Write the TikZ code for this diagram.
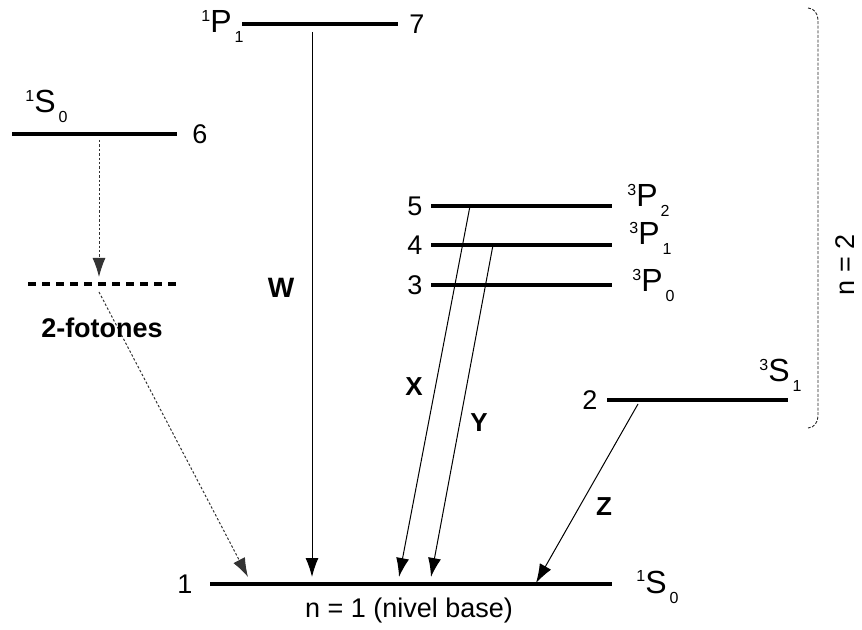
\documentclass[tikz,border=0pt]{standalone}
\usepackage{fontspec}
\setmainfont{Liberation Sans}
\usetikzlibrary{arrows.meta}

\newcommand{\lvlterm}[3]{\raisebox{5.6pt}{\fontsize{8}{9}\selectfont #1}#2\hspace{1.5pt}\raisebox{-5pt}{\fontsize{8}{9}\selectfont #3}}

\begin{document}
\begin{tikzpicture}[
    x=0.5pt,y=-0.5pt,
    level/.style={line width=1.6pt},
    virtual/.style={line width=1.6pt,dash pattern=on 4pt off 3pt},
    trans/.style={->,line width=0.5pt},
    twophot/.style={->,line width=0.5pt,dash pattern=on 1.2pt off 1pt,black!80},
    num/.style={font=\fontsize{13.5}{16}\selectfont},
    term/.style={font=\fontsize{16}{18}\selectfont,inner sep=0pt,anchor=base west},
    lbl/.style={font=\fontsize{13}{15}\selectfont\bfseries},
    >={Latex[length=9.5pt,width=6.5pt]},
]
    \useasboundingbox (0,0) rectangle (862,630);

    % levels
    \coordinate (l7w) at (242,24);  \coordinate (l7e) at (398,24);
    \coordinate (l6w) at (12,134);  \coordinate (l6e) at (177,134);
    \coordinate (l5w) at (431,206); \coordinate (l5e) at (612,206);
    \coordinate (l4w) at (431,245); \coordinate (l4e) at (612,245);
    \coordinate (l3w) at (431,285); \coordinate (l3e) at (612,285);
    \coordinate (l2w) at (607,400); \coordinate (l2e) at (788,400);
    \coordinate (l1w) at (210,584); \coordinate (l1e) at (612,584);
    \coordinate (vw) at (28,284);   \coordinate (ve) at (178,284);
    \draw[level] (l7w) -- (l7e);
    \draw[level] (l6w) -- (l6e);
    \draw[level] (l5w) -- (l5e);
    \draw[level] (l4w) -- (l4e);
    \draw[level] (l3w) -- (l3e);
    \draw[level] (l2w) -- (l2e);
    \draw[level] (l1w) -- (l1e);
    \draw[virtual] (vw) -- (ve);

    % numbers and terms
    \node[num] (n7) at (417,24) {7};
    \node[num] (n6) at (200,134) {6};
    \node[num] (n5) at (415,206) {5};
    \node[num] (n4) at (415,245) {4};
    \node[num] (n3) at (415,285) {3};
    \node[num] (n2) at (590,400) {2};
    \node[num] (n1) at (185,584) {1};
    \node[term] (t7) at (201,33) {\lvlterm{1}{P}{1}};
    \node[term] (t6) at (25,113) {\lvlterm{1}{S}{0}};
    \node[term] (t5) at (627,207) {\lvlterm{3}{P}{2}};
    \node[term] (t4) at (629,245) {\lvlterm{3}{P}{1}};
    \node[term] (t3) at (632,292) {\lvlterm{3}{P}{0}};
    \node[term] (t2) at (759,382) {\lvlterm{3}{S}{1}};
    \node[term] (t1) at (636,593) {\lvlterm{1}{S}{0}};
    \node[num] (base) at (409,611) {n = 1 (nivel base)};

    % transitions
    \coordinate (w0) at (312,32);  \coordinate (w1) at (312,577);
    \coordinate (x0) at (470,206); \coordinate (x1) at (399,577);
    \coordinate (y0) at (493,245); \coordinate (y1) at (431,577);
    \coordinate (z0) at (638,404); \coordinate (z1) at (536,583);
    \coordinate (f0) at (99,140);  \coordinate (f1) at (99,277);
    \coordinate (g0) at (99,292);  \coordinate (g1) at (248,577);
    \draw[trans] (w0) -- (w1);
    \draw[trans] (x0) -- (x1);
    \draw[trans] (y0) -- (y1);
    \draw[trans] (z0) -- (z1);
    \draw[twophot] (f0) -- (f1);
    \draw[twophot] (g0) -- (g1);
    \node[lbl,font=\fontsize{14}{16}\selectfont\bfseries] (lw) at (281,288) {W};
    \node[lbl] (lx) at (414,387) {X};
    \node[lbl] (ly) at (479,423) {Y};
    \node[lbl] (lz) at (604,507) {Z};
    \node[lbl,font=\fontsize{13.5}{16}\selectfont\bfseries] (lf) at (102,328) {2-fotones};

    % n = 2 brace
    \coordinate (bt) at (808,8); \coordinate (bb) at (808,428);
    \draw[line width=0.45pt,dash pattern=on 1.5pt off 0.8pt,black!85] (bt) to[out=0,in=90] ++(10,12) -- ++(0,396) to[out=-90,in=0] (bb);
    \node[num,rotate=90] (n2lbl) at (845,265) {n = 2};
\end{tikzpicture}
\end{document}
